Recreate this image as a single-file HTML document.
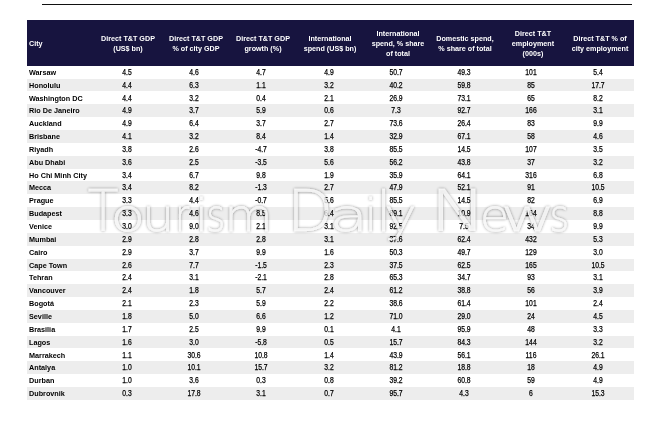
<!DOCTYPE html>
<html><head><meta charset="utf-8"><title>Table</title>
<style>
html,body{margin:0;padding:0;background:#fff;}
body{width:656px;height:428px;position:relative;overflow:hidden;font-family:"Liberation Sans",sans-serif;color:#000;}
.line{position:absolute;left:41.7px;top:3.8px;width:590.3px;height:1.1px;background:#111;}
.hd{position:absolute;left:27px;top:19.5px;width:606.8px;height:46.3px;background:#17143f;}
.r{position:absolute;left:27px;width:606.8px;height:12.850px;}
.g{background:#ededed;}
.t{position:absolute;left:0;top:0;width:656px;height:428px;}
.c{position:absolute;left:29.2px;font-size:8px;font-weight:bold;line-height:14.750px;white-space:nowrap;transform:scaleX(.905);transform-origin:0 50%;}
.n{position:absolute;width:60px;margin-left:-30px;text-align:center;font-size:8.2px;line-height:14.150px;white-space:nowrap;-webkit-text-stroke:0.25px #000;transform:scaleX(.83);transform-origin:50% 50%;}
.h{position:absolute;width:90px;margin-left:-45px;text-align:center;color:#fff;font-size:7.9px;font-weight:bold;line-height:10px;white-space:nowrap;transform:scaleX(.91);transform-origin:50% 50%;}
.hc{position:absolute;left:29.2px;color:#fff;font-size:7.9px;font-weight:bold;line-height:10px;transform:scaleX(.91);transform-origin:0 50%;}
</style></head><body>
<div class="line"></div>
<div class="hd"></div>

<div class="hc" style="top:39.26px">City</div>
<div class="h" style="left:128.3px;top:34.26px">Direct T&amp;T GDP<br>(US$ bn)</div>
<div class="h" style="left:195.5px;top:34.26px">Direct T&amp;T GDP<br>% of city GDP</div>
<div class="h" style="left:263px;top:34.26px">Direct T&amp;T GDP<br>growth (%)</div>
<div class="h" style="left:330.3px;top:34.26px">International<br>spend (US$ bn)</div>
<div class="h" style="left:397.5px;top:29.26px">International<br>spend, % share<br>of total</div>
<div class="h" style="left:465px;top:34.26px">Domestic spend,<br>% share of total</div>
<div class="h" style="left:532.5px;top:29.26px">Direct T&amp;T<br>employment<br>(000s)</div>
<div class="h" style="left:600px;top:34.26px">Direct T&amp;T % of<br>city employment</div>
<div class="r" style="top:65.800px"></div>
<div class="r g" style="top:78.650px"></div>
<div class="r" style="top:91.500px"></div>
<div class="r g" style="top:104.350px"></div>
<div class="r" style="top:117.200px"></div>
<div class="r g" style="top:130.050px"></div>
<div class="r" style="top:142.900px"></div>
<div class="r g" style="top:155.750px"></div>
<div class="r" style="top:168.600px"></div>
<div class="r g" style="top:181.450px"></div>
<div class="r" style="top:194.300px"></div>
<div class="r g" style="top:207.150px"></div>
<div class="r" style="top:220.000px"></div>
<div class="r g" style="top:232.850px"></div>
<div class="r" style="top:245.700px"></div>
<div class="r g" style="top:258.550px"></div>
<div class="r" style="top:271.400px"></div>
<div class="r g" style="top:284.250px"></div>
<div class="r" style="top:297.100px"></div>
<div class="r g" style="top:309.950px"></div>
<div class="r" style="top:322.800px"></div>
<div class="r g" style="top:335.650px"></div>
<div class="r" style="top:348.500px"></div>
<div class="r g" style="top:361.350px"></div>
<div class="r" style="top:374.200px"></div>
<div class="r g" style="top:387.050px"></div>
<div class="c" style="top:65.800px">Warsaw</div>
<div class="n" style="left:126.5px;top:65.800px">4.5</div>
<div class="n" style="left:193.9px;top:65.800px">4.6</div>
<div class="n" style="left:261.4px;top:65.800px">4.7</div>
<div class="n" style="left:328.7px;top:65.800px">4.9</div>
<div class="n" style="left:396px;top:65.800px">50.7</div>
<div class="n" style="left:463.6px;top:65.800px">49.3</div>
<div class="n" style="left:531.1px;top:65.800px">101</div>
<div class="n" style="left:598.4px;top:65.800px">5.4</div>
<div class="c" style="top:78.650px">Honolulu</div>
<div class="n" style="left:126.5px;top:78.650px">4.4</div>
<div class="n" style="left:193.9px;top:78.650px">6.3</div>
<div class="n" style="left:261.4px;top:78.650px">1.1</div>
<div class="n" style="left:328.7px;top:78.650px">3.2</div>
<div class="n" style="left:396px;top:78.650px">40.2</div>
<div class="n" style="left:463.6px;top:78.650px">59.8</div>
<div class="n" style="left:531.1px;top:78.650px">85</div>
<div class="n" style="left:598.4px;top:78.650px">17.7</div>
<div class="c" style="top:91.500px">Washington DC</div>
<div class="n" style="left:126.5px;top:91.500px">4.4</div>
<div class="n" style="left:193.9px;top:91.500px">3.2</div>
<div class="n" style="left:261.4px;top:91.500px">0.4</div>
<div class="n" style="left:328.7px;top:91.500px">2.1</div>
<div class="n" style="left:396px;top:91.500px">26.9</div>
<div class="n" style="left:463.6px;top:91.500px">73.1</div>
<div class="n" style="left:531.1px;top:91.500px">65</div>
<div class="n" style="left:598.4px;top:91.500px">8.2</div>
<div class="c" style="top:104.350px">Rio De Janeiro</div>
<div class="n" style="left:126.5px;top:104.350px">4.9</div>
<div class="n" style="left:193.9px;top:104.350px">3.7</div>
<div class="n" style="left:261.4px;top:104.350px">5.9</div>
<div class="n" style="left:328.7px;top:104.350px">0.6</div>
<div class="n" style="left:396px;top:104.350px">7.3</div>
<div class="n" style="left:463.6px;top:104.350px">92.7</div>
<div class="n" style="left:531.1px;top:104.350px">166</div>
<div class="n" style="left:598.4px;top:104.350px">3.1</div>
<div class="c" style="top:117.200px">Auckland</div>
<div class="n" style="left:126.5px;top:117.200px">4.9</div>
<div class="n" style="left:193.9px;top:117.200px">6.4</div>
<div class="n" style="left:261.4px;top:117.200px">3.7</div>
<div class="n" style="left:328.7px;top:117.200px">2.7</div>
<div class="n" style="left:396px;top:117.200px">73.6</div>
<div class="n" style="left:463.6px;top:117.200px">26.4</div>
<div class="n" style="left:531.1px;top:117.200px">83</div>
<div class="n" style="left:598.4px;top:117.200px">9.9</div>
<div class="c" style="top:130.050px">Brisbane</div>
<div class="n" style="left:126.5px;top:130.050px">4.1</div>
<div class="n" style="left:193.9px;top:130.050px">3.2</div>
<div class="n" style="left:261.4px;top:130.050px">8.4</div>
<div class="n" style="left:328.7px;top:130.050px">1.4</div>
<div class="n" style="left:396px;top:130.050px">32.9</div>
<div class="n" style="left:463.6px;top:130.050px">67.1</div>
<div class="n" style="left:531.1px;top:130.050px">58</div>
<div class="n" style="left:598.4px;top:130.050px">4.6</div>
<div class="c" style="top:142.900px">Riyadh</div>
<div class="n" style="left:126.5px;top:142.900px">3.8</div>
<div class="n" style="left:193.9px;top:142.900px">2.6</div>
<div class="n" style="left:261.4px;top:142.900px">-4.7</div>
<div class="n" style="left:328.7px;top:142.900px">3.8</div>
<div class="n" style="left:396px;top:142.900px">85.5</div>
<div class="n" style="left:463.6px;top:142.900px">14.5</div>
<div class="n" style="left:531.1px;top:142.900px">107</div>
<div class="n" style="left:598.4px;top:142.900px">3.5</div>
<div class="c" style="top:155.750px">Abu Dhabi</div>
<div class="n" style="left:126.5px;top:155.750px">3.6</div>
<div class="n" style="left:193.9px;top:155.750px">2.5</div>
<div class="n" style="left:261.4px;top:155.750px">-3.5</div>
<div class="n" style="left:328.7px;top:155.750px">5.6</div>
<div class="n" style="left:396px;top:155.750px">56.2</div>
<div class="n" style="left:463.6px;top:155.750px">43.8</div>
<div class="n" style="left:531.1px;top:155.750px">37</div>
<div class="n" style="left:598.4px;top:155.750px">3.2</div>
<div class="c" style="top:168.600px">Ho Chi Minh City</div>
<div class="n" style="left:126.5px;top:168.600px">3.4</div>
<div class="n" style="left:193.9px;top:168.600px">6.7</div>
<div class="n" style="left:261.4px;top:168.600px">9.8</div>
<div class="n" style="left:328.7px;top:168.600px">1.9</div>
<div class="n" style="left:396px;top:168.600px">35.9</div>
<div class="n" style="left:463.6px;top:168.600px">64.1</div>
<div class="n" style="left:531.1px;top:168.600px">316</div>
<div class="n" style="left:598.4px;top:168.600px">6.8</div>
<div class="c" style="top:181.450px">Mecca</div>
<div class="n" style="left:126.5px;top:181.450px">3.4</div>
<div class="n" style="left:193.9px;top:181.450px">8.2</div>
<div class="n" style="left:261.4px;top:181.450px">-1.3</div>
<div class="n" style="left:328.7px;top:181.450px">2.7</div>
<div class="n" style="left:396px;top:181.450px">47.9</div>
<div class="n" style="left:463.6px;top:181.450px">52.1</div>
<div class="n" style="left:531.1px;top:181.450px">91</div>
<div class="n" style="left:598.4px;top:181.450px">10.5</div>
<div class="c" style="top:194.300px">Prague</div>
<div class="n" style="left:126.5px;top:194.300px">3.3</div>
<div class="n" style="left:193.9px;top:194.300px">4.4</div>
<div class="n" style="left:261.4px;top:194.300px">-0.7</div>
<div class="n" style="left:328.7px;top:194.300px">5.6</div>
<div class="n" style="left:396px;top:194.300px">85.5</div>
<div class="n" style="left:463.6px;top:194.300px">14.5</div>
<div class="n" style="left:531.1px;top:194.300px">82</div>
<div class="n" style="left:598.4px;top:194.300px">6.9</div>
<div class="c" style="top:207.150px">Budapest</div>
<div class="n" style="left:126.5px;top:207.150px">3.3</div>
<div class="n" style="left:193.9px;top:207.150px">4.6</div>
<div class="n" style="left:261.4px;top:207.150px">8.5</div>
<div class="n" style="left:328.7px;top:207.150px">6.4</div>
<div class="n" style="left:396px;top:207.150px">89.1</div>
<div class="n" style="left:463.6px;top:207.150px">10.9</div>
<div class="n" style="left:531.1px;top:207.150px">164</div>
<div class="n" style="left:598.4px;top:207.150px">8.8</div>
<div class="c" style="top:220.000px">Venice</div>
<div class="n" style="left:126.5px;top:220.000px">3.0</div>
<div class="n" style="left:193.9px;top:220.000px">9.0</div>
<div class="n" style="left:261.4px;top:220.000px">2.1</div>
<div class="n" style="left:328.7px;top:220.000px">3.1</div>
<div class="n" style="left:396px;top:220.000px">92.5</div>
<div class="n" style="left:463.6px;top:220.000px">7.5</div>
<div class="n" style="left:531.1px;top:220.000px">34</div>
<div class="n" style="left:598.4px;top:220.000px">9.9</div>
<div class="c" style="top:232.850px">Mumbai</div>
<div class="n" style="left:126.5px;top:232.850px">2.9</div>
<div class="n" style="left:193.9px;top:232.850px">2.8</div>
<div class="n" style="left:261.4px;top:232.850px">2.8</div>
<div class="n" style="left:328.7px;top:232.850px">3.1</div>
<div class="n" style="left:396px;top:232.850px">37.6</div>
<div class="n" style="left:463.6px;top:232.850px">62.4</div>
<div class="n" style="left:531.1px;top:232.850px">432</div>
<div class="n" style="left:598.4px;top:232.850px">5.3</div>
<div class="c" style="top:245.700px">Cairo</div>
<div class="n" style="left:126.5px;top:245.700px">2.9</div>
<div class="n" style="left:193.9px;top:245.700px">3.7</div>
<div class="n" style="left:261.4px;top:245.700px">9.9</div>
<div class="n" style="left:328.7px;top:245.700px">1.6</div>
<div class="n" style="left:396px;top:245.700px">50.3</div>
<div class="n" style="left:463.6px;top:245.700px">49.7</div>
<div class="n" style="left:531.1px;top:245.700px">129</div>
<div class="n" style="left:598.4px;top:245.700px">3.0</div>
<div class="c" style="top:258.550px">Cape Town</div>
<div class="n" style="left:126.5px;top:258.550px">2.6</div>
<div class="n" style="left:193.9px;top:258.550px">7.7</div>
<div class="n" style="left:261.4px;top:258.550px">-1.5</div>
<div class="n" style="left:328.7px;top:258.550px">2.3</div>
<div class="n" style="left:396px;top:258.550px">37.5</div>
<div class="n" style="left:463.6px;top:258.550px">62.5</div>
<div class="n" style="left:531.1px;top:258.550px">165</div>
<div class="n" style="left:598.4px;top:258.550px">10.5</div>
<div class="c" style="top:271.400px">Tehran</div>
<div class="n" style="left:126.5px;top:271.400px">2.4</div>
<div class="n" style="left:193.9px;top:271.400px">3.1</div>
<div class="n" style="left:261.4px;top:271.400px">-2.1</div>
<div class="n" style="left:328.7px;top:271.400px">2.8</div>
<div class="n" style="left:396px;top:271.400px">65.3</div>
<div class="n" style="left:463.6px;top:271.400px">34.7</div>
<div class="n" style="left:531.1px;top:271.400px">93</div>
<div class="n" style="left:598.4px;top:271.400px">3.1</div>
<div class="c" style="top:284.250px">Vancouver</div>
<div class="n" style="left:126.5px;top:284.250px">2.4</div>
<div class="n" style="left:193.9px;top:284.250px">1.8</div>
<div class="n" style="left:261.4px;top:284.250px">5.7</div>
<div class="n" style="left:328.7px;top:284.250px">2.4</div>
<div class="n" style="left:396px;top:284.250px">61.2</div>
<div class="n" style="left:463.6px;top:284.250px">38.8</div>
<div class="n" style="left:531.1px;top:284.250px">56</div>
<div class="n" style="left:598.4px;top:284.250px">3.9</div>
<div class="c" style="top:297.100px">Bogotá</div>
<div class="n" style="left:126.5px;top:297.100px">2.1</div>
<div class="n" style="left:193.9px;top:297.100px">2.3</div>
<div class="n" style="left:261.4px;top:297.100px">5.9</div>
<div class="n" style="left:328.7px;top:297.100px">2.2</div>
<div class="n" style="left:396px;top:297.100px">38.6</div>
<div class="n" style="left:463.6px;top:297.100px">61.4</div>
<div class="n" style="left:531.1px;top:297.100px">101</div>
<div class="n" style="left:598.4px;top:297.100px">2.4</div>
<div class="c" style="top:309.950px">Seville</div>
<div class="n" style="left:126.5px;top:309.950px">1.8</div>
<div class="n" style="left:193.9px;top:309.950px">5.0</div>
<div class="n" style="left:261.4px;top:309.950px">6.6</div>
<div class="n" style="left:328.7px;top:309.950px">1.2</div>
<div class="n" style="left:396px;top:309.950px">71.0</div>
<div class="n" style="left:463.6px;top:309.950px">29.0</div>
<div class="n" style="left:531.1px;top:309.950px">24</div>
<div class="n" style="left:598.4px;top:309.950px">4.5</div>
<div class="c" style="top:322.800px">Brasilia</div>
<div class="n" style="left:126.5px;top:322.800px">1.7</div>
<div class="n" style="left:193.9px;top:322.800px">2.5</div>
<div class="n" style="left:261.4px;top:322.800px">9.9</div>
<div class="n" style="left:328.7px;top:322.800px">0.1</div>
<div class="n" style="left:396px;top:322.800px">4.1</div>
<div class="n" style="left:463.6px;top:322.800px">95.9</div>
<div class="n" style="left:531.1px;top:322.800px">48</div>
<div class="n" style="left:598.4px;top:322.800px">3.3</div>
<div class="c" style="top:335.650px">Lagos</div>
<div class="n" style="left:126.5px;top:335.650px">1.6</div>
<div class="n" style="left:193.9px;top:335.650px">3.0</div>
<div class="n" style="left:261.4px;top:335.650px">-5.8</div>
<div class="n" style="left:328.7px;top:335.650px">0.5</div>
<div class="n" style="left:396px;top:335.650px">15.7</div>
<div class="n" style="left:463.6px;top:335.650px">84.3</div>
<div class="n" style="left:531.1px;top:335.650px">144</div>
<div class="n" style="left:598.4px;top:335.650px">3.2</div>
<div class="c" style="top:348.500px">Marrakech</div>
<div class="n" style="left:126.5px;top:348.500px">1.1</div>
<div class="n" style="left:193.9px;top:348.500px">30.6</div>
<div class="n" style="left:261.4px;top:348.500px">10.8</div>
<div class="n" style="left:328.7px;top:348.500px">1.4</div>
<div class="n" style="left:396px;top:348.500px">43.9</div>
<div class="n" style="left:463.6px;top:348.500px">56.1</div>
<div class="n" style="left:531.1px;top:348.500px">116</div>
<div class="n" style="left:598.4px;top:348.500px">26.1</div>
<div class="c" style="top:361.350px">Antalya</div>
<div class="n" style="left:126.5px;top:361.350px">1.0</div>
<div class="n" style="left:193.9px;top:361.350px">10.1</div>
<div class="n" style="left:261.4px;top:361.350px">15.7</div>
<div class="n" style="left:328.7px;top:361.350px">3.2</div>
<div class="n" style="left:396px;top:361.350px">81.2</div>
<div class="n" style="left:463.6px;top:361.350px">18.8</div>
<div class="n" style="left:531.1px;top:361.350px">18</div>
<div class="n" style="left:598.4px;top:361.350px">4.9</div>
<div class="c" style="top:374.200px">Durban</div>
<div class="n" style="left:126.5px;top:374.200px">1.0</div>
<div class="n" style="left:193.9px;top:374.200px">3.6</div>
<div class="n" style="left:261.4px;top:374.200px">0.3</div>
<div class="n" style="left:328.7px;top:374.200px">0.8</div>
<div class="n" style="left:396px;top:374.200px">39.2</div>
<div class="n" style="left:463.6px;top:374.200px">60.8</div>
<div class="n" style="left:531.1px;top:374.200px">59</div>
<div class="n" style="left:598.4px;top:374.200px">4.9</div>
<div class="c" style="top:387.050px">Dubrovnik</div>
<div class="n" style="left:126.5px;top:387.050px">0.3</div>
<div class="n" style="left:193.9px;top:387.050px">17.8</div>
<div class="n" style="left:261.4px;top:387.050px">3.1</div>
<div class="n" style="left:328.7px;top:387.050px">0.7</div>
<div class="n" style="left:396px;top:387.050px">95.7</div>
<div class="n" style="left:463.6px;top:387.050px">4.3</div>
<div class="n" style="left:531.1px;top:387.050px">6</div>
<div class="n" style="left:598.4px;top:387.050px">15.3</div>
<svg class="t" width="656" height="428" viewBox="0 0 656 428" style="pointer-events:none" role="img" aria-label="Tourism Daily News"><title>Tourism Daily News</title>
<defs><filter id="sh" x="-5%" y="-20%" width="110%" height="150%"><feGaussianBlur in="SourceAlpha" stdDeviation="1.6"/><feOffset dx="0.3" dy="0.4" result="b"/><feComponentTransfer><feFuncA type="linear" slope="0.6"/></feComponentTransfer><feMerge><feMergeNode/><feMergeNode in="SourceGraphic"/></feMerge></filter></defs>
<text y="230.6" filter="url(#sh)" fill="#fff" fill-opacity="0.72" stroke="#fff" stroke-opacity="0.72" stroke-width="0.3" font-family="'DejaVu Sans Light','DejaVu Sans','Liberation Sans',sans-serif" font-weight="200" font-size="44.4" lengthAdjust="spacingAndGlyphs"><tspan x="87.7" font-size="57" textLength="30.8" lengthAdjust="spacingAndGlyphs">T</tspan><tspan x="110.5" textLength="34.8" lengthAdjust="spacingAndGlyphs">o</tspan><tspan x="141.8" textLength="32.8" lengthAdjust="spacingAndGlyphs">u</tspan><tspan x="175.3" textLength="13.9" lengthAdjust="spacingAndGlyphs">r</tspan><tspan x="195.3">i</tspan><tspan x="206.3" textLength="19.1" lengthAdjust="spacingAndGlyphs">s</tspan><tspan x="224.3" textLength="48.5" lengthAdjust="spacingAndGlyphs">m</tspan> <tspan x="287.3" font-size="57" textLength="45.8" lengthAdjust="spacingAndGlyphs">D</tspan><tspan x="329.6" textLength="38.7" lengthAdjust="spacingAndGlyphs">a</tspan><tspan x="364.8">i</tspan><tspan x="376.0" font-size="56">l</tspan><tspan x="384.3" textLength="32.5" lengthAdjust="spacingAndGlyphs">y</tspan> <tspan x="429.7" font-size="57" textLength="56.9" lengthAdjust="spacingAndGlyphs">N</tspan><tspan x="479.7" textLength="29.4" lengthAdjust="spacingAndGlyphs">e</tspan><tspan x="500.4" textLength="55.1" lengthAdjust="spacingAndGlyphs">w</tspan><tspan x="549.4" textLength="19.7" lengthAdjust="spacingAndGlyphs">s</tspan></text></svg>
</body></html>
